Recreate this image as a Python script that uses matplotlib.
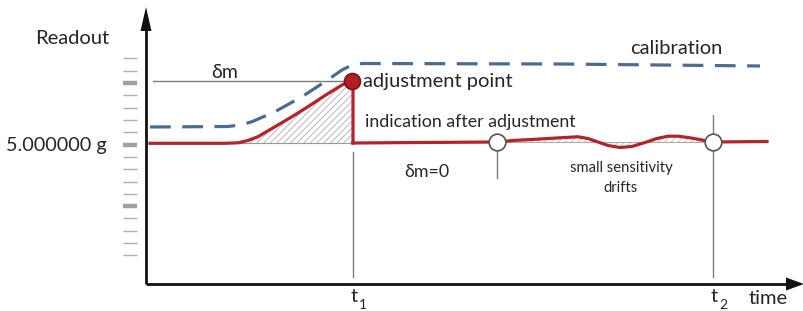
import matplotlib
matplotlib.use("Agg")
import matplotlib.pyplot as plt
from matplotlib.patches import Polygon
import numpy as np

plt.rcParams['font.family'] = ['Lato', 'DejaVu Sans']
plt.rcParams['hatch.linewidth'] = 0.7
plt.rcParams['hatch.color'] = '#b0b0b0'

# ---- data (time = px from origin, readout = px above time axis) ----
ORIG_X, ORIG_Y = 146, 284

pre_t = [150, 225, 238, 248, 258, 275, 292, 308, 325, 342, 352, 353, 353]
pre_r = [143.3, 143.3, 142.8, 140.5, 136.7, 126.7, 116.7, 106.7, 95.5, 85, 80.5, 80.5, 143]

post_t = [353, 420, 497, 513, 540, 565, 578, 588, 598, 608, 620, 632, 645, 657, 668, 678, 690, 702, 713, 767]
post_r = [143, 142.5, 142, 140.5, 139, 137.5, 136.8, 138.5, 142, 145.5, 147.5, 146.5, 142.5, 138.5, 136.2, 136.2, 137.8, 140, 142, 141.5]

cal_t = [150, 228, 240, 252, 275, 302, 325, 342, 352, 362, 560, 760]
cal_r = [127, 126.5, 125, 121.7, 111.7, 96.7, 81.7, 70, 65, 63.5, 64, 66]

adj_point = (352.5, 80.5)
check_points_t = [497, 713]
check_points_r = [142, 142]

tick_levels = [58.3, 70.5, 83, 95, 107.5, 120, 132, 144.5, 157, 169, 181.5, 193.5, 206, 218, 230.5, 242.5, 254.5]
major_idx = [2, 7, 12]

def X(v):
    return np.asarray(v, float) - ORIG_X

def Y(v):
    return ORIG_Y - np.asarray(v, float)

fig = plt.figure(figsize=(8.04, 3.11), dpi=100)
ax = fig.add_axes([0, 0, 1, 1])
ax.set_xlim(-ORIG_X, 804 - ORIG_X)
ax.set_ylim(ORIG_Y - 311, ORIG_Y)
ax.axis('off')

red = '#b3232b'
blue = '#4d6a92'
grey = '#7a7a7a'
txt = '#262626'

# hatched regions
ax.fill_between(X(pre_t[2:11]), Y(pre_r[2:11]), Y([143.3]*9), facecolor='none',
                hatch='/////', edgecolor='#b8b8b8', linewidth=0, zorder=1)
ax.fill_between(X(post_t[2:19]), Y(post_r[2:19]), Y([142]*17), facecolor='none',
                hatch='/////', edgecolor='#c8c8c8', linewidth=0, zorder=1)

# grey helper lines
ax.plot(X([240, 353]), Y([143.3, 143.3]), color='#999999', lw=0.8, zorder=1)
ax.plot(X([497, 713]), Y([142, 142]), color='#aaaaaa', lw=0.8, zorder=1)
ax.plot(X([153, 347]), Y([81, 81]), color=grey, lw=1.0, zorder=2)
ax.plot(X([353, 353]), Y([152, 277]), color=grey, lw=1.0, zorder=2)
ax.plot(X([497, 497]), Y([142, 178]), color=grey, lw=1.0, zorder=2)
ax.plot(X([713, 713]), Y([115, 277]), color=grey, lw=1.0, zorder=2)

# left scale ticks
for i, lv in enumerate(tick_levels):
    if i in major_idx:
        ax.plot(X([123, 137]), Y([lv, lv]), color='#a0a0a0', lw=3.2, solid_capstyle='butt', zorder=2)
    else:
        ax.plot(X([123, 137]), Y([lv, lv]), color='#b0b0b0', lw=1.0, solid_capstyle='butt', zorder=2)

# calibration dashed
ax.plot(X(cal_t), Y(cal_r), color=blue, lw=2.3, dashes=(6.5, 3.6), zorder=3)

# readout curve
ax.plot(X(pre_t), Y(pre_r), color=red, lw=2.3, zorder=4, solid_joinstyle='round')
ax.plot(X(post_t), Y(post_r), color=red, lw=2.3, zorder=4, solid_joinstyle='round')

# markers
ax.plot(X([adj_point[0]]), Y([adj_point[1]]), 'o', ms=11.5, mfc='#b01e26', mec='#7d1218', mew=1.2, zorder=6)
ax.plot(X(check_points_t), Y(check_points_r), 'o', ms=12, mfc='white', mec='#555555', mew=1.2, zorder=6)

# axes with arrowheads
ax.plot(X([146, 146]), Y([284, 28]), color='#111111', lw=2.0, solid_capstyle='butt', zorder=5)
ax.plot(X([146, 790]), Y([284, 284]), color='#111111', lw=2.0, solid_capstyle='butt', zorder=5)
ax.add_patch(Polygon(np.column_stack([X([140.5, 151.5, 146]), Y([31, 31, 7])]), closed=True,
                     facecolor='#111111', edgecolor='none', zorder=5))
ax.add_patch(Polygon(np.column_stack([X([786, 786, 804]), Y([277.5, 290.5, 284])]), closed=True,
                     facecolor='#111111', edgecolor='none', zorder=5))

# texts
def T(x, y, s, size, ha='left', va='center', **kw):
    ax.text(X(x), Y(y), s, fontsize=size, ha=ha, va=va, color=txt, **kw)

T(72, 38, 'Readout', 14.5, ha='center')
T(56, 145, '5.000000 g', 14.3, ha='center')
T(676, 49, 'calibration', 14.5, ha='center')
T(363, 82, 'adjustment point', 14.5, ha='left')
T(225, 72, 'δm', 14, ha='center')
T(470, 122, 'indication after adjustment', 12.8, ha='center')
T(427, 172, 'δm=0', 12.8, ha='center')
T(621, 168, 'small sensitivity', 10.6, ha='center')
T(621, 188, 'drifts', 10.6, ha='center')
T(354, 297, 't', 14.5, ha='center')
T(363, 305, '1', 10, ha='center')
T(714, 297, 't', 14.5, ha='center')
T(723, 305, '2', 10, ha='center')
T(768, 299, 'time', 14.5, ha='center')

fig.savefig('out.png', dpi=100)
